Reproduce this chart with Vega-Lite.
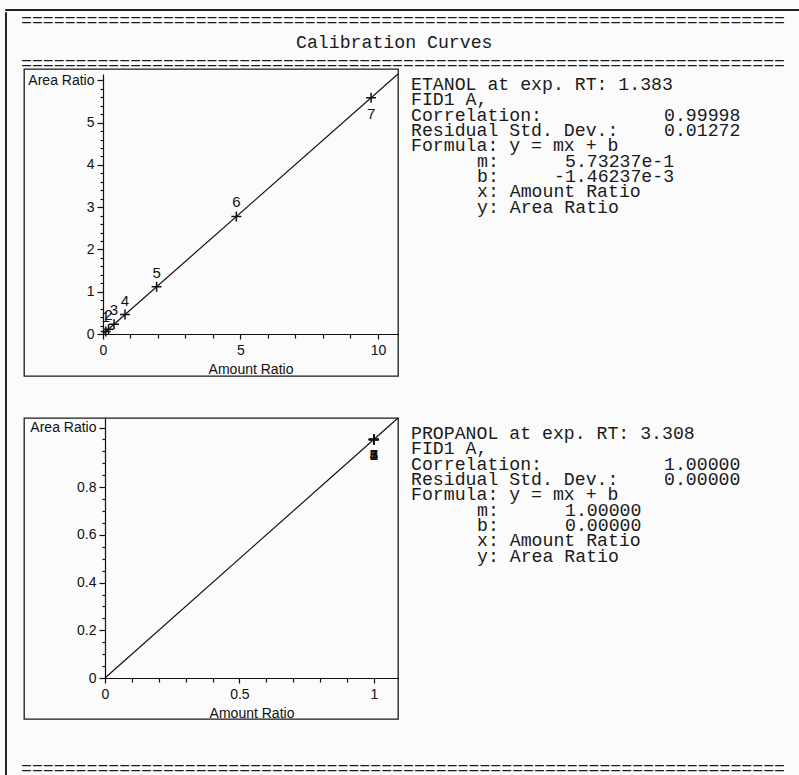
{
  "$schema": "https://vega.github.io/schema/vega-lite/v6.json",
  "background": "#fbfbfc",
  "padding": {"left": 4, "top": 8, "right": 0, "bottom": 0},
  "bounds": "full",
  "spacing": 0,
  "config": {
    "view": {"stroke": null},
    "font": "Liberation Sans",
    "axis": {
      "grid": false,
      "domainColor": "#111111",
      "domainWidth": 1.2,
      "tickColor": "#111111",
      "tickWidth": 1.2,
      "labelColor": "#111111",
      "titleColor": "#111111",
      "labelFont": "Liberation Sans",
      "titleFont": "Liberation Sans",
      "labelFontSize": 14,
      "titleFontSize": 14,
      "titleFontWeight": "normal",
      "labelOverlap": false,
      "labelFlush": false
    }
  },
  "datasets": {
    "header": [
      {"row": 0, "col": 0, "text": "======================================================================"},
      {"row": 1, "col": 25, "text": "Calibration Curves"},
      {"row": 2, "col": 0, "text": "======================================================================"}
    ],
    "footer": [
      {"row": 0, "col": 0, "text": "======================================================================"}
    ],
    "etanolLevels": [
      {"level": 1, "amount": 0.1, "area": 0.06},
      {"level": 2, "amount": 0.2, "area": 0.11},
      {"level": 3, "amount": 0.4, "area": 0.23},
      {"level": 4, "amount": 0.8, "area": 0.46},
      {"level": 5, "amount": 1.95, "area": 1.12},
      {"level": 6, "amount": 4.85, "area": 2.78},
      {"level": 7, "amount": 9.75, "area": 5.59}
    ],
    "etanolFit": [
      {"amount": 0, "area": -0.00146},
      {"amount": 10.73, "area": 6.1494}
    ],
    "propanolLevels": [
      {"level": 1, "amount": 1, "area": 1},
      {"level": 2, "amount": 1, "area": 1},
      {"level": 3, "amount": 1, "area": 1},
      {"level": 4, "amount": 1, "area": 1},
      {"level": 5, "amount": 1, "area": 1},
      {"level": 6, "amount": 1, "area": 1},
      {"level": 7, "amount": 1, "area": 1}
    ],
    "propanolFit": [
      {"amount": 0, "area": 0},
      {"amount": 1.09, "area": 1.09}
    ],
    "etanolReport": [
      {"row": 0, "col": 0, "text": "ETANOL at exp. RT: 1.383"},
      {"row": 1, "col": 0, "text": "FID1 A,"},
      {"row": 2, "col": 0, "text": "Correlation:"},
      {"row": 2, "col": 23, "text": "0.99998"},
      {"row": 3, "col": 0, "text": "Residual Std. Dev.:"},
      {"row": 3, "col": 23, "text": "0.01272"},
      {"row": 4, "col": 0, "text": "Formula: y = mx + b"},
      {"row": 5, "col": 6, "text": "m:"},
      {"row": 5, "col": 14, "text": "5.73237e-1"},
      {"row": 6, "col": 6, "text": "b:"},
      {"row": 6, "col": 13, "text": "-1.46237e-3"},
      {"row": 7, "col": 6, "text": "x: Amount Ratio"},
      {"row": 8, "col": 6, "text": "y: Area Ratio"}
    ],
    "propanolReport": [
      {"row": 0, "col": 0, "text": "PROPANOL at exp. RT: 3.308"},
      {"row": 1, "col": 0, "text": "FID1 A,"},
      {"row": 2, "col": 0, "text": "Correlation:"},
      {"row": 2, "col": 23, "text": "1.00000"},
      {"row": 3, "col": 0, "text": "Residual Std. Dev.:"},
      {"row": 3, "col": 23, "text": "0.00000"},
      {"row": 4, "col": 0, "text": "Formula: y = mx + b"},
      {"row": 5, "col": 6, "text": "m:"},
      {"row": 5, "col": 14, "text": "1.00000"},
      {"row": 6, "col": 6, "text": "b:"},
      {"row": 6, "col": 14, "text": "0.00000"},
      {"row": 7, "col": 6, "text": "x: Amount Ratio"},
      {"row": 8, "col": 6, "text": "y: Area Ratio"}
    ]
  },
  "vconcat": [
    {
      "width": 794,
      "height": 1,
      "view": {"stroke": "#222222", "strokeWidth": 1},
      "data": {"values": []},
      "mark": "point",
      "encoding": {}
    },
    {
      "spacing": 14,
      "bounds": "full",
      "hconcat": [
        {
          "width": 1,
          "height": 763,
          "view": {"stroke": "#222222", "strokeWidth": 1},
          "data": {"values": []},
          "mark": "point",
          "encoding": {}
        },
        {
          "columns": 2,
          "spacing": {"row": 42, "column": 12},
          "bounds": "flush",
          "concat": [
            {
              "width": 374,
              "height": 15,
              "data": {"name": "header"},
              "mark": {"type": "text", "align": "left", "baseline": "middle", "font": "Liberation Mono", "fontSize": 18.2, "color": "#1a1a1a"},
              "encoding": {
                "x": {"field": "col", "type": "quantitative", "scale": {"domain": [0, 10], "range": [-3, 107], "nice": false, "zero": false}, "axis": null},
                "y": {"field": "row", "type": "quantitative", "scale": {"domain": [0, 2], "range": [9, 52], "nice": false, "zero": false}, "axis": null},
                "text": {"field": "text"}
              }
            },
            {
              "width": 380,
              "height": 15,
              "data": {"values": []},
              "mark": "point",
              "encoding": {}
            },
            {
              "width": 374,
              "height": 307,
              "view": {"stroke": "#1a1a1a", "strokeWidth": 1.3},
              "encoding": {
                "x": {
                  "field": "amount", "type": "quantitative",
                  "scale": {"domain": [0, 10.73], "range": [79, 374], "nice": false, "zero": false},
                  "axis": {
                    "title": "Amount Ratio", "offset": -42,
                    "values": [0, 1, 2, 3, 4, 5, 6, 7, 8, 9, 10],
                    "labelExpr": "datum.value % 5 === 0 ? format(datum.value, '~g') : ''",
                    "tickSize": {"condition": {"test": "datum.value % 5 === 0", "value": 5}, "value": 4},
                    "labelPadding": 4, "titlePadding": 5
                  }
                },
                "y": {
                  "field": "area", "type": "quantitative",
                  "scale": {"domain": [0, 6.15], "range": [265, 5], "nice": false, "zero": false},
                  "axis": {
                    "title": null, "offset": -79,
                    "values": [0, 0.2, 0.4, 0.6, 0.8, 1, 1.2, 1.4, 1.6, 1.8, 2, 2.2, 2.4, 2.6, 2.8, 3, 3.2, 3.4, 3.6, 3.8, 4, 4.2, 4.4, 4.6, 4.8, 5, 5.2, 5.4, 5.6, 5.8, 6],
                    "labelExpr": "datum.value === 6 ? 'Area Ratio' : (abs(datum.value - round(datum.value)) < 0.001 ? format(datum.value, '~g') : '')",
                    "tickSize": {"condition": {"test": "abs(datum.value - round(datum.value)) < 0.001", "value": 6}, "value": 3},
                    "labelPadding": 3
                  }
                }
              },
              "layer": [
                {
                  "data": {"name": "etanolFit"},
                  "mark": {"type": "line", "color": "#111111", "strokeWidth": 1.2}
                },
                {
                  "data": {"name": "etanolLevels"},
                  "mark": {"type": "point", "shape": "M-1,0H1M0,-1V1", "filled": false, "color": "#111111", "strokeWidth": 1.5, "size": 100, "opacity": 1}
                },
                {
                  "data": {"name": "etanolLevels"},
                  "transform": [{"filter": "datum.level < 7"}],
                  "mark": {"type": "text", "dy": -14, "fontSize": 15, "color": "#111111"},
                  "encoding": {"text": {"field": "level"}}
                },
                {
                  "data": {"name": "etanolLevels"},
                  "transform": [{"filter": "datum.level === 7"}],
                  "mark": {"type": "text", "dy": 16, "fontSize": 15, "color": "#111111"},
                  "encoding": {"text": {"field": "level"}}
                }
              ]
            },
            {
              "width": 380,
              "height": 307,
              "data": {"name": "etanolReport"},
              "mark": {"type": "text", "align": "left", "baseline": "middle", "font": "Liberation Mono", "fontSize": 18.2, "color": "#1a1a1a"},
              "encoding": {
                "x": {"field": "col", "type": "quantitative", "scale": {"domain": [0, 10], "range": [1, 111], "nice": false, "zero": false}, "axis": null},
                "y": {"field": "row", "type": "quantitative", "scale": {"domain": [0, 8], "range": [16, 138.8], "nice": false, "zero": false}, "axis": null},
                "text": {"field": "text"}
              }
            },
            {
              "width": 374,
              "height": 301,
              "view": {"stroke": "#1a1a1a", "strokeWidth": 1.3},
              "encoding": {
                "x": {
                  "field": "amount", "type": "quantitative",
                  "scale": {"domain": [0, 1.09], "range": [81, 374], "nice": false, "zero": false},
                  "axis": {
                    "title": "Amount Ratio", "offset": -41,
                    "values": [0, 0.1, 0.2, 0.3, 0.4, 0.5, 0.6, 0.7, 0.8, 0.9, 1],
                    "labelExpr": "abs(datum.value * 2 - round(datum.value * 2)) < 0.001 ? format(datum.value, '~g') : ''",
                    "tickSize": {"condition": {"test": "abs(datum.value * 2 - round(datum.value * 2)) < 0.001", "value": 5}, "value": 4},
                    "labelPadding": 4, "titlePadding": 5
                  }
                },
                "y": {
                  "field": "area", "type": "quantitative",
                  "scale": {"domain": [0, 1.09], "range": [260, 0], "nice": false, "zero": false},
                  "axis": {
                    "title": null, "offset": -81,
                    "values": [0, 0.05, 0.1, 0.15, 0.2, 0.25, 0.3, 0.35, 0.4, 0.45, 0.5, 0.55, 0.6, 0.65, 0.7, 0.75, 0.8, 0.85, 0.9, 0.95, 1, 1.05],
                    "labelExpr": "datum.value > 1.04 ? 'Area Ratio' : (abs(datum.value * 5 - round(datum.value * 5)) < 0.001 && datum.value < 0.9 ? format(datum.value, '~g') : '')",
                    "tickSize": {"condition": {"test": "datum.value > 1.04 || (abs(datum.value * 5 - round(datum.value * 5)) < 0.001 && datum.value < 0.9)", "value": 6}, "value": 3},
                    "labelPadding": 3
                  }
                }
              },
              "layer": [
                {
                  "data": {"name": "propanolFit"},
                  "mark": {"type": "line", "color": "#111111", "strokeWidth": 1.2}
                },
                {
                  "data": {"name": "propanolLevels"},
                  "mark": {"type": "point", "shape": "M-1,0H1M0,-1V1", "filled": false, "color": "#111111", "strokeWidth": 1.5, "size": 100, "opacity": 1}
                },
                {
                  "data": {"name": "propanolLevels"},
                  "mark": {"type": "text", "dy": 16, "fontSize": 15, "color": "#111111"},
                  "encoding": {"text": {"field": "level"}}
                }
              ]
            },
            {
              "width": 380,
              "height": 301,
              "data": {"name": "propanolReport"},
              "mark": {"type": "text", "align": "left", "baseline": "middle", "font": "Liberation Mono", "fontSize": 18.2, "color": "#1a1a1a"},
              "encoding": {
                "x": {"field": "col", "type": "quantitative", "scale": {"domain": [0, 10], "range": [1, 111], "nice": false, "zero": false}, "axis": null},
                "y": {"field": "row", "type": "quantitative", "scale": {"domain": [0, 8], "range": [16, 138.8], "nice": false, "zero": false}, "axis": null},
                "text": {"field": "text"}
              }
            },
            {
              "width": 374,
              "height": 14,
              "data": {"name": "footer"},
              "mark": {"type": "text", "align": "left", "baseline": "middle", "font": "Liberation Mono", "fontSize": 18.2, "color": "#1a1a1a"},
              "encoding": {
                "x": {"field": "col", "type": "quantitative", "scale": {"domain": [0, 10], "range": [-3, 107], "nice": false, "zero": false}, "axis": null},
                "y": {"field": "row", "type": "quantitative", "scale": {"domain": [0, 1], "range": [8, 29], "nice": false, "zero": false}, "axis": null},
                "text": {"field": "text"}
              }
            },
            {
              "width": 380,
              "height": 14,
              "data": {"values": []},
              "mark": "point",
              "encoding": {}
            }
          ]
        }
      ]
    }
  ]
}
